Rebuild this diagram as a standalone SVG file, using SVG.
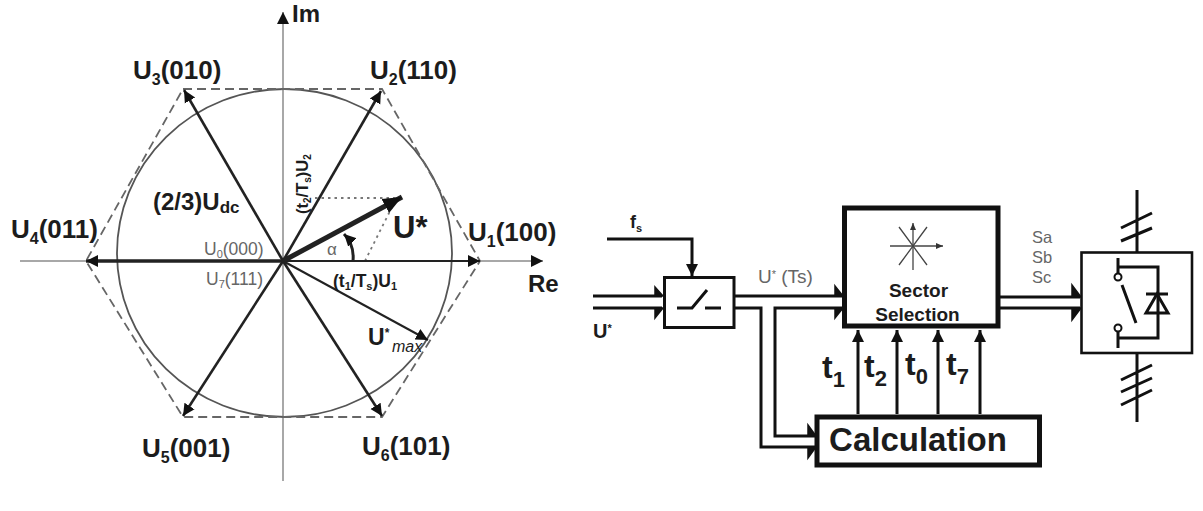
<svg xmlns="http://www.w3.org/2000/svg" width="1203" height="511" viewBox="0 0 1203 511">
<style>
text{font-family:"Liberation Sans",Arial,sans-serif;fill:#1c1c1c}
.b{font-weight:bold}
.g{fill:#666}
.lab{font-weight:bold;font-size:26px}
.lab tspan.s{font-size:16px}
.ax{stroke:#a8a8a8;stroke-width:2;fill:none}
.v{stroke:#222;stroke-width:2.600;fill:none}
.w{stroke:#111;stroke-width:3;fill:none}
.box{fill:#fff;stroke:#111}
.thin{stroke:#444;stroke-width:1.300;fill:none}
.barb{fill:#111;stroke:#111;stroke-width:1.500}
</style>
<defs>
<marker id="a" markerUnits="userSpaceOnUse" markerWidth="14" markerHeight="14" refX="12" refY="7" orient="auto"><path d="M0 1L12 7L0 13z" fill="#111"/></marker>
<marker id="big" markerUnits="userSpaceOnUse" markerWidth="20" markerHeight="18" refX="19" refY="9" orient="auto"><path d="M0 1L19 9L0 17z" fill="#111"/></marker>
<marker id="sm" markerUnits="userSpaceOnUse" markerWidth="8" markerHeight="8" refX="7" refY="4" orient="auto"><path d="M0 1L7 4L0 7z" fill="#333"/></marker>
</defs>
<rect width="1203" height="511" fill="#fff"/>
<g id="space-vector">
<path class="ax" d="M20 261H543" marker-end="url(#a)"/>
<path class="ax" d="M283 481V12" marker-end="url(#a)"/>
<ellipse cx="284.500" cy="253" rx="167.500" ry="164" fill="none" stroke="#555" stroke-width="1.800"/>
<path d="M183 89H382L480 261L382 417H183L86 261Z" fill="none" stroke="#666" stroke-width="1.800" stroke-dasharray="9 5"/>
<path d="M315 198H398M365 261L393 205" fill="none" stroke="#777" stroke-width="1.800" stroke-dasharray="2.500 4"/>
<g class="v">
<path d="M283 261L381 91" marker-end="url(#a)"/>
<path d="M283 261L184 90" marker-end="url(#a)"/>
<path d="M283 261L183 416" marker-end="url(#a)"/>
<path d="M283 261L382 416" marker-end="url(#a)"/>
<path d="M283 261L428 340" stroke-width="2" marker-end="url(#a)"/>
<path d="M283 261H480" stroke-width="2.200" marker-end="url(#a)"/>
<path d="M283 261H86" stroke-width="3.400" marker-end="url(#a)"/>
<path d="M283 261L402 197" stroke-width="5" marker-end="url(#big)"/>
<path d="M353 261C354 250 351 241 344 234" stroke-width="3" marker-end="url(#a)"/>
</g>
<text class="b" x="292" y="22" font-size="24">Im</text>
<text class="b" x="528" y="292" font-size="24">Re</text>
<text class="lab" x="133" y="79">U<tspan class="s" dy="6">3</tspan><tspan dy="-6">(010)</tspan></text>
<text class="lab" x="370" y="79">U<tspan class="s" dy="6">2</tspan><tspan dy="-6">(110)</tspan></text>
<text class="lab" x="11" y="238">U<tspan class="s" dy="6">4</tspan><tspan dy="-6">(011)</tspan></text>
<text class="lab" x="468" y="241">U<tspan class="s" dy="6">1</tspan><tspan dy="-6">(100)</tspan></text>
<text class="lab" x="142" y="457">U<tspan class="s" dy="6">5</tspan><tspan dy="-6">(001)</tspan></text>
<text class="lab" x="362" y="455">U<tspan class="s" dy="6">6</tspan><tspan dy="-6">(101)</tspan></text>
<text class="b" x="153" y="210" font-size="24">(2/3)U<tspan font-size="17" dy="3">dc</tspan></text>
<text class="b" x="393" y="238" font-size="31">U*</text>
<text class="g" x="204" y="255" font-size="17.500">U<tspan font-size="11" dy="3">0</tspan><tspan dy="-3">(000)</tspan></text>
<text class="g" x="206" y="285" font-size="17.500">U<tspan font-size="11" dy="3">7</tspan><tspan dy="-3">(111)</tspan></text>
<text x="333" y="287" font-size="17.500" class="b">(t<tspan font-size="11" dy="3">1</tspan><tspan dy="-3">/T</tspan><tspan font-size="11" dy="3">s</tspan><tspan dy="-3">)U</tspan><tspan font-size="11" dy="3">1</tspan></text>
<text x="0" y="0" font-size="16.500" class="b" transform="translate(308 214) rotate(-90)">(t<tspan font-size="10" dy="3">2</tspan><tspan dy="-3">/T</tspan><tspan font-size="10" dy="3">s</tspan><tspan dy="-3">)U</tspan><tspan font-size="10" dy="3">2</tspan></text>
<text class="g" x="327" y="255" font-size="17">α</text>
<text class="b" x="368" y="345" font-size="23">U<tspan font-size="12" dy="-8">*</tspan></text>
<text x="392" y="352" font-size="16" font-style="italic" fill="#333">max</text>
</g>
<g id="connectors">
<path class="w" d="M593 296H662M593 308H662"/>
<path class="barb" d="M655 287L663 296L655 296zM655 318L663 308L655 308z"/>
<path class="w" d="M607 239H692V276" marker-end="url(#a)"/>
<path class="w" d="M735 296H842"/>
<path class="w" d="M735 308H761V447H815"/>
<path class="w" d="M842 308H775V436H815"/>
<path class="barb" d="M835 286L843 296L835 296zM835 318L843 308L835 308z"/>
<path class="barb" d="M808 425L816 436L808 436zM808 458L816 447L808 447z"/>
<path class="w" d="M1000 297H1080M1000 308H1080"/>
<path class="barb" d="M1072 285L1081 297L1072 297zM1072 320L1081 308L1072 308z"/>
<path class="w" d="M858 414V330" marker-end="url(#a)"/>
<path class="w" d="M897 414V330" marker-end="url(#a)"/>
<path class="w" d="M938 414V330" marker-end="url(#a)"/>
<path class="w" d="M980 414V330" marker-end="url(#a)"/>
<path class="w" d="M1137 190V252M1121 228L1152 213M1121 241L1152 228"/>
<path class="w" d="M1137 353V422M1121 380L1152 365M1121 392L1152 378M1121 405L1152 390"/>
</g>
<g id="sampler">
<rect class="box" x="664.500" y="277.500" width="69.500" height="50" stroke-width="3"/>
<path class="w" d="M677 308H692L707 290M705 308H721" stroke-width="2"/>
</g>
<g id="sector-selection">
<rect class="box" x="844.500" y="208" width="153.500" height="118" stroke-width="5"/>
<path class="thin" d="M890 246H943" marker-end="url(#sm)"/>
<path class="thin" d="M913 270V223" marker-end="url(#sm)"/>
<path class="thin" d="M899 227L927 265M927 227L899 265"/>
<text class="b" x="918.500" y="297" font-size="19" text-anchor="middle">Sector</text>
<text class="b" x="917.500" y="321" font-size="19" text-anchor="middle">Selection</text>
</g>
<g id="calculation">
<rect class="box" x="817" y="417" width="222.500" height="48" stroke-width="5"/>
<text class="b" x="918" y="451" font-size="33" text-anchor="middle">Calculation</text>
</g>
<g id="inverter">
<rect class="box" x="1081.500" y="252.500" width="110.500" height="100.500" stroke-width="2.600"/>
<path class="w" d="M1118 258V274M1118 267H1158V338H1118M1118 331V348M1122 285L1136 323" stroke-width="2.400"/>
<circle cx="1118" cy="277" r="3.500" fill="#fff" stroke="#111" stroke-width="2"/>
<circle cx="1118" cy="328" r="3.500" fill="#fff" stroke="#111" stroke-width="2"/>
<path class="w" d="M1146 294H1168M1157 294L1146 313H1168Z" stroke-width="2.400"/>
</g>
<g id="labels">
<text class="b" x="630" y="228" font-size="18">f<tspan font-size="11" dy="4">s</tspan></text>
<text class="b" x="593" y="338" font-size="20">U<tspan font-size="11" dy="-6">*</tspan></text>
<text class="g" x="758" y="283" font-size="19">U<tspan font-size="11" dy="-5">*</tspan><tspan dy="5"> (Ts)</tspan></text>
<text class="g" x="1032" y="243" font-size="16.500">Sa</text>
<text class="g" x="1032" y="263" font-size="16.500">Sb</text>
<text class="g" x="1032" y="283" font-size="16.500">Sc</text>
<text class="b" x="822" y="378" font-size="32">t<tspan font-size="22" dy="9">1</tspan></text>
<text class="b" x="864" y="377" font-size="32">t<tspan font-size="22" dy="9">2</tspan></text>
<text class="b" x="905" y="375" font-size="32">t<tspan font-size="22" dy="9">0</tspan></text>
<text class="b" x="946" y="375" font-size="32">t<tspan font-size="22" dy="9">7</tspan></text>
</g>
</svg>
